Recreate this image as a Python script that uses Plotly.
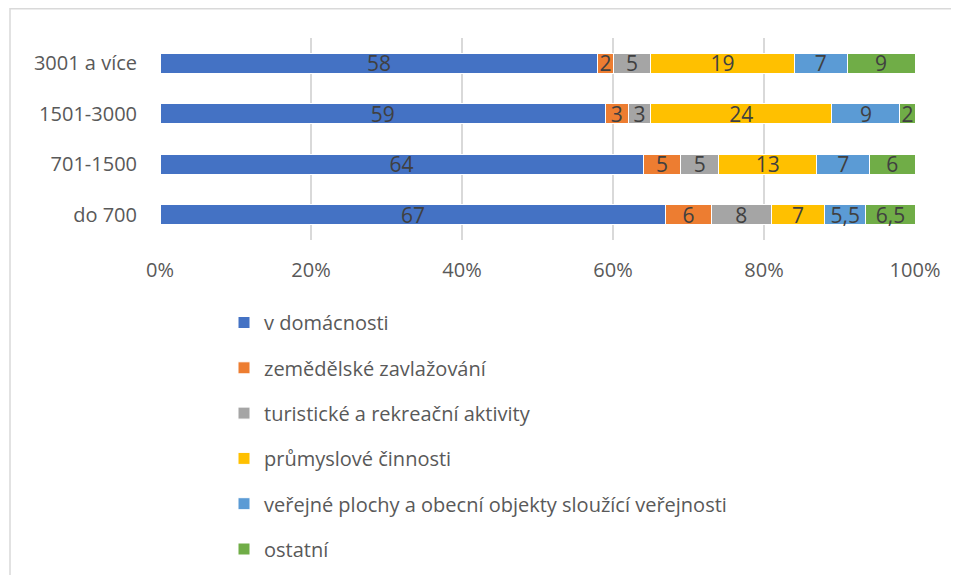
import plotly.graph_objects as go

categories = ["do 700", "701-1500", "1501-3000", "3001 a více"]
series_names = [
    "v domácnosti",
    "zemědělské zavlažování",
    "turistické a rekreační aktivity",
    "průmyslové činnosti",
    "veřejné plochy a obecní objekty sloužící veřejnosti",
    "ostatní",
]
v_domacnosti = [67, 64, 59, 58]
zemedelske = [6, 5, 3, 2]
turisticke = [8, 5, 3, 5]
prumyslove = [7, 13, 24, 19]
verejne = [5.5, 7, 9, 7]
ostatni = [6.5, 6, 2, 9]
series_values = [v_domacnosti, zemedelske, turisticke, prumyslove, verejne, ostatni]
colors = ["#4472C4", "#ED7D31", "#A5A5A5", "#FFC000", "#5B9BD5", "#70AD47"]
x_ticks = [0, 20, 40, 60, 80, 100]

FONT = "'Open Sans', Lato, sans-serif"

# page body has an 8px margin; layout below is in figure pixels
OFF = 8
W, H = 959, 575
ML, MR, MT, MB = 160 - OFF, 959 - (915 - OFF), 38 - OFF, 575 - (240 - OFF)
pw = W - ML - MR
ph = H - MT - MB

def px2paper_x(p):
    return (p - ML) / pw

def px2paper_y(p):
    return (H - MB - p) / ph

fig = go.Figure()
for i, (name, vals, col) in enumerate(zip(series_names, series_values, colors)):
    labels = [("%g" % v).replace(".", ",") for v in vals]
    fig.add_trace(go.Bar(
        y=categories, x=vals, name=name, orientation="h",
        marker=dict(color=col, line=dict(color="white", width=1)),
        text=labels, textposition="inside", insidetextanchor="middle",
        textangle=0,
        textfont=dict(color="#404040", size=21, family=FONT),
        legendgroup="g%d" % i,
        width=0.4,
    ))

fig.update_layout(
    width=W, height=H,
    margin=dict(l=ML, r=MR, t=MT, b=MB, autoexpand=False),
    barmode="stack",
    paper_bgcolor="white", plot_bgcolor="white",
    font=dict(family=FONT, color="#595959", size=20),
    uniformtext=dict(minsize=21, mode="show"),
    legend=dict(
        x=px2paper_x(216), y=px2paper_y(295), xanchor="left", yanchor="top",
        traceorder="grouped", tracegroupgap=16.3,
        font=dict(size=20, color="#595959", family=FONT),
        itemwidth=30,
    ),
    showlegend=True,
    shapes=[
        dict(type="line", xref="paper", yref="paper",
             x0=px2paper_x(2), x1=px2paper_x(1000), y0=px2paper_y(0.75), y1=px2paper_y(0.75),
             line=dict(color="#d9d9d9", width=1.5)),
        dict(type="line", xref="paper", yref="paper",
             x0=px2paper_x(2), x1=px2paper_x(2), y0=px2paper_y(0), y1=px2paper_y(600),
             line=dict(color="#d9d9d9", width=1.5)),
    ],
)
fig.update_xaxes(
    range=[0, 100], tickvals=x_ticks, ticktext=["%d%%" % t for t in x_ticks],
    showgrid=True, gridcolor="#d9d9d9", gridwidth=1.5,
    zeroline=False, showline=False, ticks="",
    ticklabelstandoff=16, automargin=False,
    tickfont=dict(size=20, color="#595959"),
)
fig.update_yaxes(
    categoryorder="array", categoryarray=categories,
    showgrid=False, zeroline=False, showline=False, ticks="",
    ticklabelstandoff=22, automargin=False,
    tickfont=dict(size=20, color="#595959"),
)

fig.write_html("out.html")
